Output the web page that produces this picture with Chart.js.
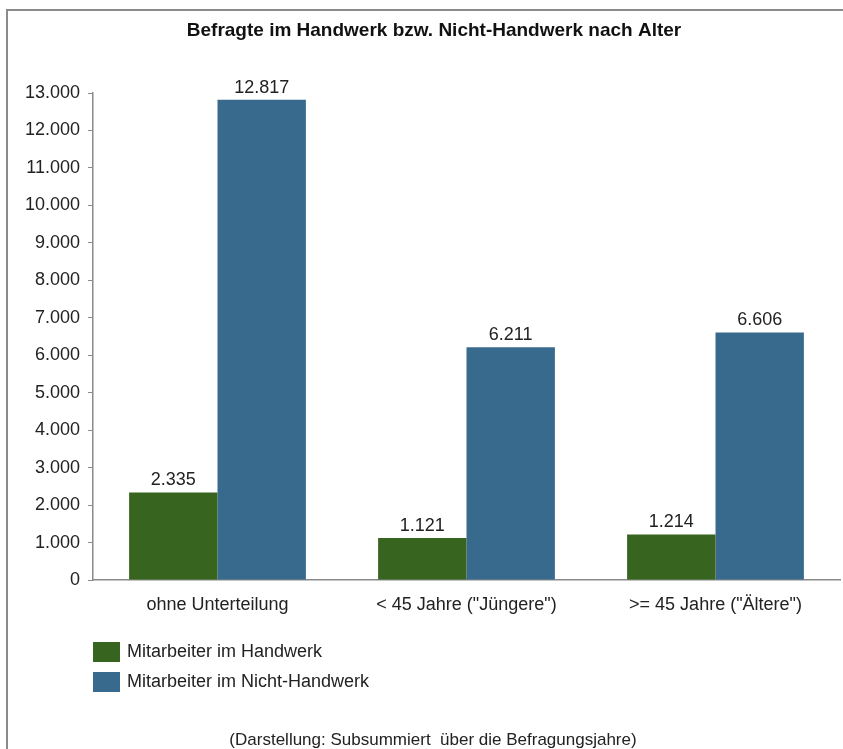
<!DOCTYPE html>
<html>
<head>
<meta charset="utf-8">
<script src="https://cdn.jsdelivr.net/npm/chart.js@4.4.1/dist/chart.umd.min.js"></script>
<style>
  html, body { margin: 0; padding: 0; background: #fff; }
  #wrap { position: relative; width: 843px; height: 749px; }
</style>
</head>
<body>
<div id="wrap"><canvas id="grafico_alter"></canvas></div>
<script>
// Daten aus der Grafik
const kategorien = ['ohne Unterteilung', '< 45 Jahre ("Jüngere")', '>= 45 Jahre ("Ältere")'];
const handwerk = [2335, 1121, 1214];
const nichtHandwerk = [12817, 6211, 6606];
const serienNamen = ['Mitarbeiter im Handwerk', 'Mitarbeiter im Nicht-Handwerk'];
const titel = 'Befragte im Handwerk bzw. Nicht-Handwerk nach Alter';
const fussnote = '(Darstellung: Subsummiert  über die Befragungsjahre)';

const farben = ['#37651f', '#386a8e'];
const schrift = '"Liberation Sans", Arial, sans-serif';

function formatDE(v) {
    return String(v).replace(/\B(?=(\d{3})+(?!\d))/g, '.');
}

// Rahmen, Titel, Legende, Fussnote und Werte
const deko = {
    id: 'deko',
    afterDraw(chart) {
        const ctx = chart.ctx;
        ctx.save();

        // Rahmen
        ctx.strokeStyle = '#8a8a8a';
        ctx.lineWidth = 2;
        ctx.beginPath();
        ctx.moveTo(7, 760);
        ctx.lineTo(7, 10);
        ctx.lineTo(850, 10);
        ctx.stroke();

        // Titel
        ctx.fillStyle = '#111';
        ctx.font = 'bold 19px ' + schrift;
        ctx.textAlign = 'center';
        ctx.textBaseline = 'middle';
        ctx.fillText(titel, 434, 31);

        // Werte ueber den Balken
        ctx.font = '18px ' + schrift;
        ctx.fillStyle = '#222';
        ctx.textBaseline = 'bottom';
        chart.data.datasets.forEach((ds, i) => {
            chart.getDatasetMeta(i).data.forEach((bar, j) => {
                ctx.fillText(formatDE(ds.data[j]), bar.x, bar.y - 3);
            });
        });

        // Legende
        ctx.textAlign = 'left';
        ctx.textBaseline = 'middle';
        serienNamen.forEach((name, i) => {
            const y = 652 + i * 30;
            ctx.fillStyle = farben[i];
            ctx.fillRect(93, y - 10, 27, 20);
            ctx.fillStyle = '#222';
            ctx.fillText(name, 127, y);
        });

        // Fussnote
        ctx.font = '17px ' + schrift;
        ctx.textAlign = 'center';
        ctx.fillText(fussnote, 433, 740);

        ctx.restore();
    }
};

const canvas_alter = document.getElementById('grafico_alter');
const ctx = canvas_alter.getContext('2d');

new Chart(ctx, {
    type: 'bar',
    data: {
        labels: kategorien,
        datasets: [{
            label: serienNamen[0],
            data: handwerk,
            backgroundColor: farben[0],
        }, {
            label: serienNamen[1],
            data: nichtHandwerk,
            backgroundColor: farben[1],
        }],
    },
    options: {
        responsive: true,
        maintainAspectRatio: false,
        animation: false,
        categoryPercentage: 0.71,
        barPercentage: 1.0,
        layout: { padding: { top: 93, left: 0, right: 3, bottom: 0 } },
        plugins: {
            legend: { display: false },
            title: { display: false },
            tooltip: { enabled: false },
        },
        scales: {
            x: {
                grid: { display: false, drawTicks: false },
                border: { display: true, color: '#8a8a8a', width: 1.5 },
                ticks: { color: '#222', font: { family: schrift, size: 18 }, padding: 14, maxRotation: 0 },
                afterFit: s => { s.height = 169; },
            },
            y: {
                min: 0,
                max: 13000,
                ticks: {
                    stepSize: 1000,
                    color: '#222',
                    font: { family: schrift, size: 18 },
                    padding: 8,
                    callback: v => formatDE(v),
                },
                grid: { drawOnChartArea: false, drawTicks: true, tickLength: 5, color: '#8a8a8a' },
                border: { display: true, color: '#8a8a8a', width: 1.5 },
                afterFit: s => { s.width = 93; },
            },
        },
    },
    plugins: [deko],
});
</script>
</body>
</html>
